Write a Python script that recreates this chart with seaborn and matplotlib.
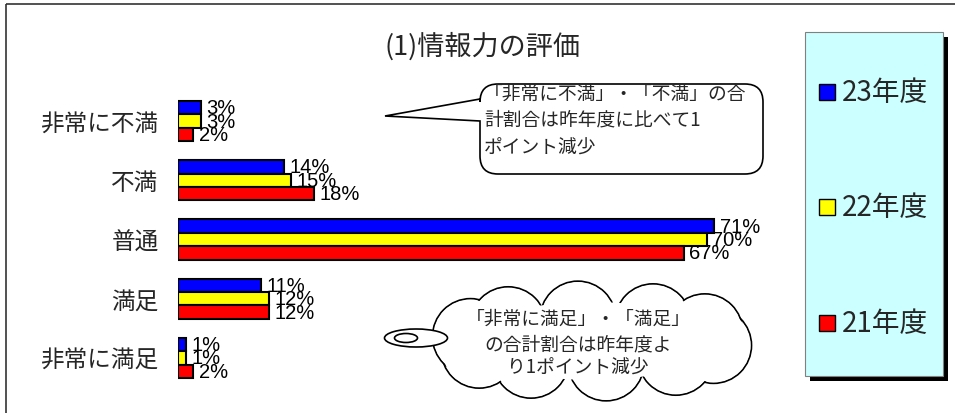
import numpy as np
import pandas as pd
import seaborn as sns
from matplotlib import pyplot as plt
from matplotlib.patches import Rectangle, Circle, Ellipse, PathPatch
from matplotlib.path import Path

# data
categories = ["非常に不満", "不満", "普通", "満足", "非常に満足"]
years = ["23年度", "22年度", "21年度"]
values_23 = [3, 14, 71, 11, 1]
values_22 = [3, 15, 70, 12, 1]
values_21 = [2, 18, 67, 12, 2]
colors = ["#0000FF", "#FFFF00", "#FF0000"]

title = "(1)情報力の評価"
note_1 = ["「非常に不満」・「不満」の合", "計割合は昨年度に比べて1", "ポイント減少"]
note_2 = ["「非常に満足」・「満足」", "の合計割合は昨年度よ", "り1ポイント減少"]

df = pd.DataFrame({
    "評価": categories * 3,
    "年度": sum([[y] * len(categories) for y in years], []),
    "割合": values_23 + values_22 + values_21,
})

sns.set_style("white")
plt.rcParams["font.family"] = ["Noto Sans CJK JP", "DejaVu Sans"]
jp = ["Noto Sans CJK JP", "DejaVu Sans"]
narrow = ["Liberation Sans Narrow", "Liberation Sans", "DejaVu Sans"]

W, H = 955, 414
fig = plt.figure(figsize=(W / 100, H / 100), dpi=100)
fig.patch.set_facecolor("white")

# main bar axes
ax = fig.add_axes([178 / W, 1 - 388.5 / H, 604 / W, 296 / H])
sns.barplot(data=df, x="割合", y="評価", hue="年度", hue_order=years, order=categories,
            orient="h", palette=colors, saturation=1, width=0.68,
            edgecolor="black", linewidth=1.5, legend=False, ax=ax)
ax.set_xlim(0, 80)
ax.set_ylim(4.5, -0.5)
ax.set_xlabel("")
ax.set_ylabel("")
ax.set_xticks([])
ax.tick_params(axis="y", length=0, pad=14, labelsize=17)
for s in ax.spines.values():
    s.set_visible(False)
ax.patch.set_alpha(0)

for cont, vals in zip(ax.containers, [values_23, values_22, values_21]):
    ax.bar_label(cont, labels=[f"{v}%" for v in vals], padding=4,
                 fontsize=14.5, family=narrow, color="black")

# overlay axes in pixel coords for frame, title, legend, callouts
ov = fig.add_axes([0, 0, 1, 1])
ov.set_xlim(0, W)
ov.set_ylim(H, 0)
ov.axis("off")
ov.patch.set_alpha(0)

ov.add_patch(Rectangle((6, 5), 1200, 600, fill=False, edgecolor="#333333", lw=1.2))
ov.text(482, 46.5, title, ha="center", va="center", fontsize=19.5, family=jp)

# legend box with shadow
ov.add_patch(Rectangle((810, 38), 138, 344, facecolor="black", edgecolor="none"))
ov.add_patch(Rectangle((805, 33), 138, 344, facecolor="#CCFFFF", edgecolor="#808080", lw=0.8))
for yy, lab, c in zip([93, 208, 324], years, colors):
    ov.add_patch(Rectangle((819, yy - 8), 16, 16, facecolor=c, edgecolor="black", lw=1))
    ov.text(842, yy, lab, ha="left", va="center", fontsize=20, family=jp)

# callout 1: rounded box with tail
x0, x1, y0, y1, r = 480, 763, 85, 175, 18
verts = [
    (x0 + r, y0), (x1 - r, y0), (x1, y0), (x1, y0 + r),
    (x1, y1 - r), (x1, y1), (x1 - r, y1),
    (x0 + r, y1), (x0, y1), (x0, y1 - r),
    (x0, 122), (385, 117), (x0, 100),
    (x0, y0 + r), (x0, y0), (x0 + r, y0),
]
codes = [Path.MOVETO, Path.LINETO, Path.CURVE3, Path.CURVE3,
         Path.LINETO, Path.CURVE3, Path.CURVE3,
         Path.LINETO, Path.CURVE3, Path.CURVE3,
         Path.LINETO, Path.LINETO, Path.LINETO,
         Path.LINETO, Path.CURVE3, Path.CURVE3]
ov.add_patch(PathPatch(Path(verts, codes), facecolor="white", edgecolor="black", lw=1.2))
for yy, line in zip([94.5, 120, 148], note_1):
    ov.text(484, yy, line, ha="left", va="center", fontsize=13.5, family=jp)

# callout 2: cloud
cx, cy, a, b, rr = 592, 342, 124, 22, 38
t = np.linspace(0, 2 * np.pi, 11)[:-1] + 0.2
lobes = [(cx + a * np.cos(k), cy + b * np.sin(k)) for k in t]
for p in lobes:
    ov.add_patch(Circle(p, rr, facecolor="white", edgecolor="black", lw=1.2, zorder=2))
for p in lobes:
    ov.add_patch(Circle(p, rr - 1.2, facecolor="white", edgecolor="none", zorder=3))
ov.add_patch(Ellipse((cx, cy), 2 * a, 2 * b + 34, facecolor="white", edgecolor="none", zorder=3))
ov.add_patch(Ellipse((416, 339), 63, 18, facecolor="white", edgecolor="black", lw=1.2, zorder=4))
ov.add_patch(Ellipse((406, 339), 23, 9, facecolor="white", edgecolor="black", lw=1.2, zorder=4))
for yy, line in zip([319, 344.5, 368.5], note_2):
    ov.text(578, yy, line, ha="center", va="center", fontsize=13.5, family=jp, zorder=5)

fig.savefig("out.png", dpi=100)
